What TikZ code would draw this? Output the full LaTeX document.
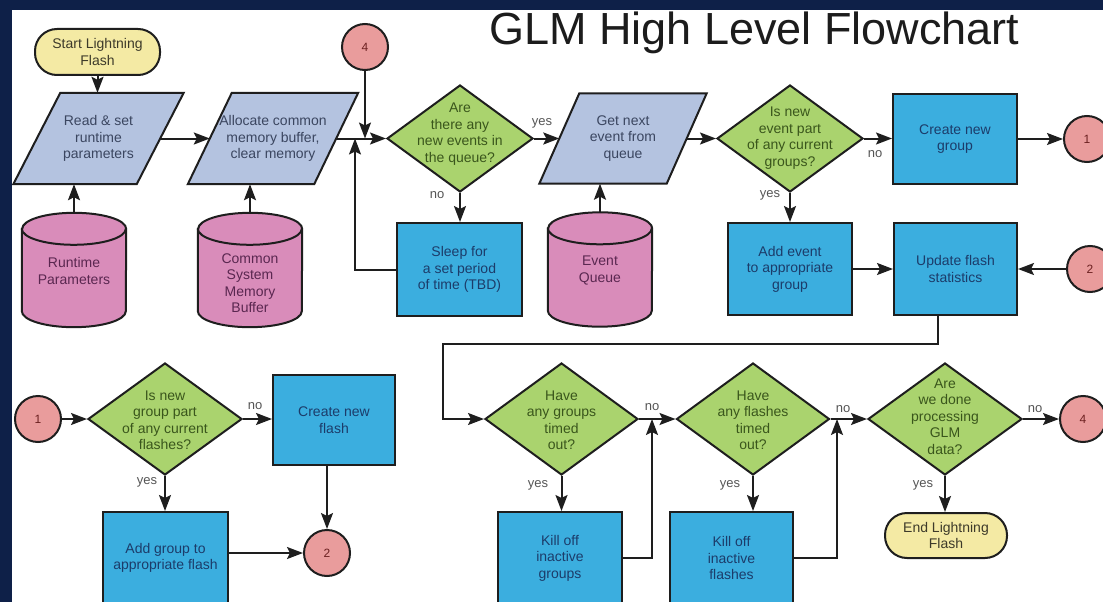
\documentclass[tikz,border=0pt]{standalone}
\usepackage{fontspec}
\setmainfont{Liberation Sans}
\usetikzlibrary{shapes.geometric,arrows.meta,backgrounds,calc}
\definecolor{navy}{HTML}{0E2048}
\definecolor{linec}{HTML}{1E1E1E}
\definecolor{procfill}{HTML}{3BAEDF}
\definecolor{proctext}{HTML}{1C3C6A}
\definecolor{parafill}{HTML}{B4C3E0}
\definecolor{paratext}{HTML}{3B4660}
\definecolor{cylfill}{HTML}{D98CBA}
\definecolor{cyltext}{HTML}{5A2750}
\definecolor{diafill}{HTML}{AAD36E}
\definecolor{diatext}{HTML}{3A561C}
\definecolor{termfill}{HTML}{F4EAA4}
\definecolor{termtext}{HTML}{3D3A2A}
\definecolor{circfill}{HTML}{E99C9C}
\definecolor{circtext}{HTML}{6B2020}
\definecolor{labgrey}{HTML}{555555}
\definecolor{titlec}{HTML}{1C1C1C}
\newcommand{\drawcyl}[1]{%
  \draw[cylshape] ([yshift=-16pt]#1.north west) -- ([yshift=16pt]#1.south west)
    arc[start angle=180,end angle=360,x radius=52pt,y radius=16pt]
    -- ([yshift=-16pt]#1.north east)
    arc[start angle=0,end angle=180,x radius=52pt,y radius=16pt] -- cycle;
  \draw[cylshape,fill=none] ([yshift=-16pt]#1.north west)
    arc[start angle=180,end angle=360,x radius=52pt,y radius=16pt];}
\newcommand{\drawpara}[2]{%
  \draw[parashape] ([xshift=#2]#1.north west) -- ([xshift=#2]#1.north east)
    -- ([xshift=-#2]#1.south east) -- ([xshift=-#2]#1.south west) -- cycle;}
\begin{document}
\begin{tikzpicture}[x=1pt,y=-1pt,
  every node/.style={font=\fontsize{14}{16.5}\selectfont, align=center, inner sep=0pt},
  procbox/.style={rectangle, draw=linec, line width=2pt, fill=procfill, text=proctext},
  parabox/.style={rectangle, text=paratext},
  parashape/.style={draw=linec, line width=2pt, fill=parafill, line join=miter},
  cylbox/.style={rectangle, minimum width=104pt, minimum height=114pt},
  cylshape/.style={draw=linec, line width=2pt, fill=cylfill},
  cyltxt/.style={text=cyltext},
  dia/.style={diamond, draw=linec, line width=2pt, fill=diafill},
  diatxt/.style={text=diatext},
  term/.style={rectangle, rounded corners=22pt, draw=linec, line width=2pt, fill=termfill, text=termtext},
  circ/.style={circle, draw=linec, line width=2pt, fill=circfill, text=circtext, minimum size=46pt, font=\fontsize{12}{14}\selectfont},
  conn/.style={draw=linec, line width=2pt, -{Stealth[length=16pt,width=12pt,inset=3pt]}},
  lab/.style={font=\fontsize{13}{15}\selectfont, text=labgrey}]
\useasboundingbox (0,0) rectangle (1103,602);
\begin{scope}[on background layer]
  \fill[navy] (0,0) rectangle (1103,602);
  \fill[white] (12,10) rectangle (1103,602);
\end{scope}

% title
\node[anchor=base west, font=\fontsize{45}{50}\selectfont, text=titlec] (title) at (489,44.5) {GLM High Level Flowchart};

% terminals
\node[term, minimum width=125pt, minimum height=46pt] (start) at (97.5,52) {Start Lightning\\Flash};
\node[term, minimum width=122pt, minimum height=45pt] (end) at (946,535.5) {End Lightning\\Flash};

% parallelograms
\node[parabox, minimum width=123pt, minimum height=91pt] (p1) at (98.5,138.5) {Read \& set\\runtime\\parameters};
\node[parabox, minimum width=126pt, minimum height=91pt] (p2) at (273,138.5) {Allocate common\\memory buffer,\\clear memory};
\node[parabox, minimum width=127pt, minimum height=90pt] (p3) at (623,138.5) {Get next\\event from\\queue};
\begin{scope}[on background layer]
  \drawpara{p1}{23.5pt}
  \drawpara{p2}{22pt}
  \drawpara{p3}{20pt}
\end{scope}

% cylinders
\node[cylbox] (rt) at (74,270) {};
\node[cylbox] (csmb) at (250,270) {};
\node[cylbox] (eq) at (600,269.5) {};
\begin{scope}[on background layer]
  \drawcyl{rt}
  \drawcyl{csmb}
  \drawcyl{eq}
\end{scope}
\node[cyltxt] (rtt) at (74,271) {Runtime\\Parameters};
\node[cyltxt] (csmbt) at (250,283) {Common\\System\\Memory\\Buffer};
\node[cyltxt] (eqt) at (600,270.5) {Event\\Queue};

% connector circles
\node[circ] (c4a) at (365,47) {4};
\node[circ] (c1a) at (1087,139) {1};
\node[circ] (c2a) at (1090,269) {2};
\node[circ] (c4b) at (1083,419) {4};
\node[circ] (c1b) at (38,419) {1};
\node[circ] (c2b) at (327,553) {2};

% diamonds
\node[dia, minimum width=146pt, minimum height=107pt] (d1) at (460,138.5) {};
\node[diatxt] (d1t) at (460,134) {Are\\there any\\new events in\\the queue?};
\node[dia, minimum width=146pt, minimum height=107pt] (d2) at (790,138.5) {};
\node[diatxt] (d2t) at (790,138) {Is new\\event part\\of any current\\groups?};
\node[dia, minimum width=153pt, minimum height=112pt] (d3) at (561.5,419) {};
\node[diatxt] (d3t) at (561.5,420) {Have\\any groups\\timed\\out?};
\node[dia, minimum width=153pt, minimum height=112pt] (d4) at (753,419) {};
\node[diatxt] (d4t) at (753,420) {Have\\any flashes\\timed\\out?};
\node[dia, minimum width=154pt, minimum height=112pt] (d5) at (945,419) {};
\node[diatxt] (d5t) at (945,416.5) {Are\\we done\\processing\\GLM\\data?};
\node[dia, minimum width=154pt, minimum height=112pt] (d6) at (165,419) {};
\node[diatxt] (d6t) at (165,420) {Is new\\group part\\of any current\\flashes?};

% process boxes
\node[procbox, minimum width=125pt, minimum height=93pt] (sleep) at (459.5,269.5) {Sleep for\\a set period\\of time (TBD)};
\node[procbox, minimum width=124pt, minimum height=90pt] (cng) at (955,139) {Create new\\group};
\node[procbox, minimum width=124pt, minimum height=92pt] (addev) at (790,269) {Add event\\to appropriate\\group};
\node[procbox, minimum width=123pt, minimum height=92pt] (upd) at (955.5,269) {Update flash\\statistics};
\node[procbox, minimum width=122pt, minimum height=90pt] (cnf) at (334,420) {Create new\\flash};
\node[procbox, minimum width=125pt, minimum height=92pt] (addg) at (165.5,558) {Add group to\\appropriate flash};
\node[procbox, minimum width=124pt, minimum height=92pt] (killg) at (560,558) {Kill off\\inactive\\groups};
\node[procbox, minimum width=123pt, minimum height=92pt] (killf) at (731.5,558) {Kill off\\inactive\\flashes};

% junction coordinates
\coordinate (j1) at (355,138.5);
\coordinate (u1) at (938,344);
\coordinate (u2) at (443,344);
\coordinate (j3) at (652,419);
\coordinate (j5) at (837,419);

% connectors
\draw[conn] (start.south) -- (start.south |- p1.north);
\draw[conn] (rt.north) -- (rt.north |- p1.south);
\draw[conn] (csmb.north) -- (csmb.north |- p2.south);
\draw[conn] (eq.north) -- (eq.north |- p3.south);
\draw[conn] (p1.east) -- (p2.west);
\draw[conn] (p2.east) -- (d1.west);
\draw[conn] (c4a.south) -- (c4a.south |- d1.west);
\draw[conn] (sleep.west) -| (j1);
\draw[conn] (d1.east) -- (p3.west);
\draw[conn] (d1.south) -- (d1.south |- sleep.north);
\draw[conn] (p3.east) -- (d2.west);
\draw[conn] (d2.east) -- (d2.east -| cng.west);
\draw[conn] (cng.east) -- (c1a.west);
\draw[conn] (d2.south) -- (d2.south |- addev.north);
\draw[conn] (addev.east) -- (upd.west);
\draw[conn] (c2a.west) -- (upd.east);
\draw[conn] (upd.south -| u1) -- (u1) -- (u2) -- (u2 |- d3.west) -- (d3.west);
\draw[conn] (d3.east) -- (d4.west);
\draw[conn] (d3.south) -- (d3.south |- killg.north);
\draw[conn] (killg.east) -| (j3);
\draw[conn] (d4.east) -- (d5.west);
\draw[conn] (d4.south) -- (d4.south |- killf.north);
\draw[conn] (killf.east) -| (j5);
\draw[conn] (d5.east) -- (c4b.west);
\draw[conn] (d5.south) -- (d5.south |- end.north);
\draw[conn] (c1b.east) -- (d6.west);
\draw[conn] (d6.east) -- (d6.east -| cnf.west);
\draw[conn] (d6.south) -- (d6.south |- addg.north);
\draw[conn] (cnf.south -| c2b.north) -- (c2b.north);
\draw[conn] (addg.east |- c2b.west) -- (c2b.west);

% labels
\node[lab] (l1) at (542,123) {yes};
\node[lab] (l2) at (437,195) {no};
\node[lab] (l3) at (875,154) {no};
\node[lab] (l4) at (770,195) {yes};
\node[lab] (l5) at (652,407) {no};
\node[lab] (l6) at (538,485) {yes};
\node[lab] (l7) at (843,409) {no};
\node[lab] (l8) at (730,485) {yes};
\node[lab] (l9) at (1035,409) {no};
\node[lab] (l10) at (923,485) {yes};
\node[lab] (l11) at (255,406) {no};
\node[lab] (l12) at (147,482) {yes};
\end{tikzpicture}
\end{document}
